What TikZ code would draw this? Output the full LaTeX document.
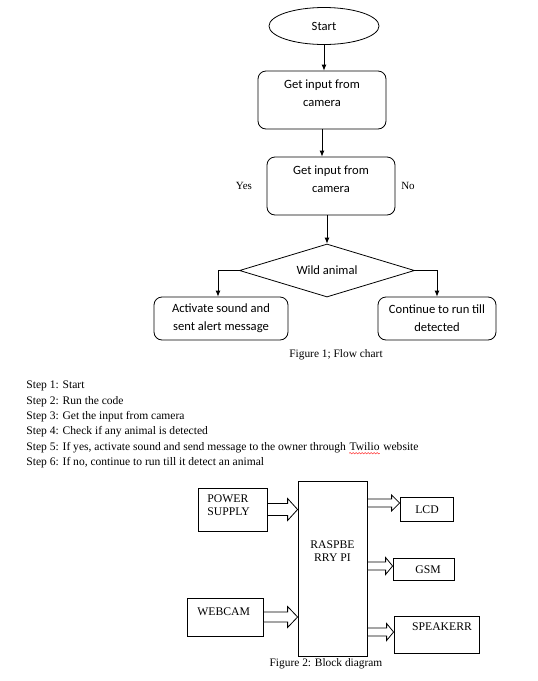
\documentclass[tikz,border=0pt]{standalone}
\usepackage{fontspec}
\setmainfont{Liberation Serif}
\newfontfamily\calfont{Carlito}
\usetikzlibrary{shapes.geometric,calc,arrows.meta,decorations.pathmorphing}
\newcommand\blockarr[5]{%
  \draw[barrow] let \p1=(#1), \p2=(#2) in
    (\x1,\y1+#3) -- (\x2-#5,\y1+#3) -- (\x2-#5,\y1+#4) -- (\x2,\y1)
    -- (\x2-#5,\y1-#4) -- (\x2-#5,\y1-#3) -- (\x1,\y1-#3) -- cycle;}
\begin{document}
\begin{tikzpicture}[x=1pt,y=-1pt,line width=0.8pt,
  fc/.style={font=\calfont\fontsize{12.6}{18}\selectfont, align=center},
  rbox/.style={draw, rounded corners=8pt, fc, inner sep=0pt},
  arr/.style={-{Latex[length=6pt,width=5pt]}},
  tnr/.style={font=\fontsize{11.55}{13}\selectfont, inner sep=0pt, text height=8pt, text depth=2.6pt},
  yn/.style={font=\fontsize{11}{13}\selectfont, inner sep=0pt},
  captext/.style={font=\fontsize{11.4}{13}\selectfont, inner sep=0pt},
  bd/.style={draw, inner sep=0pt},
  bdt/.style={font=\fontsize{11.7}{13.5}\selectfont, inner sep=0pt},
  barrow/.style={draw, fill=white, line width=0.8pt, line join=miter}]
\useasboundingbox[fill=white] (0,0) rectangle (538,681);

% ---------- Flow chart ----------
\node[draw, ellipse, minimum width=110pt, minimum height=37pt, inner sep=0pt, fc] (start) at (324,26) {Start};
\node[rbox, minimum width=128pt, minimum height=58pt] (b1) at (322,100) {Get input from\\camera\\[-5pt]};
\node[rbox, minimum width=128pt, minimum height=58pt] (b2) at (331,186) {Get input from\\camera\\[-5pt]};
\node[draw, diamond, aspect=3.3, minimum width=175pt, minimum height=53pt, inner sep=0pt, fc] (d) at (327,270.5) {Wild animal};
\node[rbox, minimum width=134pt, minimum height=43pt] (lb) at (221,318.5) {Activate sound and\\sent alert message};
\node[rbox, minimum width=118pt, minimum height=43pt] (rb) at (437,318.5) {Continue to run till\\detected};

\draw[arr] (start.south) -- (start.south |- b1.north);
\draw[arr] (b1.south) -- (b1.south |- b2.north);
\draw[arr] (d.north |- b2.south) -- (d.north);
\draw[arr] (d.west) -| ([xshift=-3pt]lb.north);
\draw[arr] (d.east) -| (rb.north);

\node[yn] (yes) at (244,186) {Yes};
\node[yn] (no) at (408,186) {No};

\node[captext] (cap1) at (336,355) {Figure 1; Flow chart};

% ---------- Steps ----------
\node[tnr, anchor=west] (s1) at (26,386) {Step 1: Start};
\node[tnr, anchor=west] (s2) at (26,402) {Step 2: Run the code};
\node[tnr, anchor=west] (s3) at (26,417) {Step 3: Get the input from camera};
\node[tnr, anchor=west] (s4) at (26,432) {Step 4: Check if any animal is detected};
\node[tnr, anchor=west] (s5) at (26,448) {Step 5: If yes, activate sound and send message to the owner through};
\node[tnr, anchor=west] (tw) at ([xshift=2.9pt]s5.east) {Twilio};
\node[tnr, anchor=west] (s5b) at ([xshift=2.9pt]tw.east) {website};
\draw[red, line width=0.4pt, decorate, decoration={snake, amplitude=0.7pt, segment length=3pt}]
  ([yshift=0.5pt]tw.south west) -- ([yshift=0.5pt]tw.south east);
\node[tnr, anchor=west] (s6) at (26,463) {Step 6: If no, continue to run till it detect an animal};

% ---------- Block diagram ----------
\node[bd, minimum width=69pt, minimum height=43pt] (ps) at (232.5,509.5) {};
\node[bdt, anchor=west, align=left] (pst) at (207,505) {POWER\\SUPPLY};
\node[bd, minimum width=69pt, minimum height=175pt] (rp) at (332.5,568.5) {};
\node[bdt, align=center] (rpt) at (332.5,551) {RASPBE\\RRY PI};
\node[bd, minimum width=76pt, minimum height=38pt] (wc) at (225,617) {};
\node[bdt, anchor=west] (wct) at (197,612) {WEBCAM};
\node[bd, minimum width=53pt, minimum height=24pt] (lcd) at (426.5,509) {};
\node[bdt] (lcdt) at (427,509.5) {LCD};
\node[bd, minimum width=61pt, minimum height=22pt] (gsm) at (423.5,569) {};
\node[bdt] (gsmt) at (428,570) {GSM};
\node[bd, minimum width=85pt, minimum height=37pt] (spk) at (436.5,634.5) {};
\node[bdt] (spkt) at (442,627) {SPEAKERR};

\blockarr{ps.east}{rp.west |- ps.east}{6pt}{11pt}{10pt}
\blockarr{wc.east}{rp.west |- wc.east}{5pt}{10.5pt}{10pt}
\blockarr{rp.east |- 0,503}{lcd.west |- 0,503}{4pt}{8pt}{8pt}
\blockarr{rp.east |- 0,566}{gsm.west |- 0,566}{4pt}{8.5pt}{7pt}
\blockarr{rp.east |- 0,632}{spk.west |- 0,632}{4pt}{8.5pt}{7pt}

\node[captext] (cap2) at (326,664) {Figure 2: Block diagram};
\end{tikzpicture}
\end{document}
